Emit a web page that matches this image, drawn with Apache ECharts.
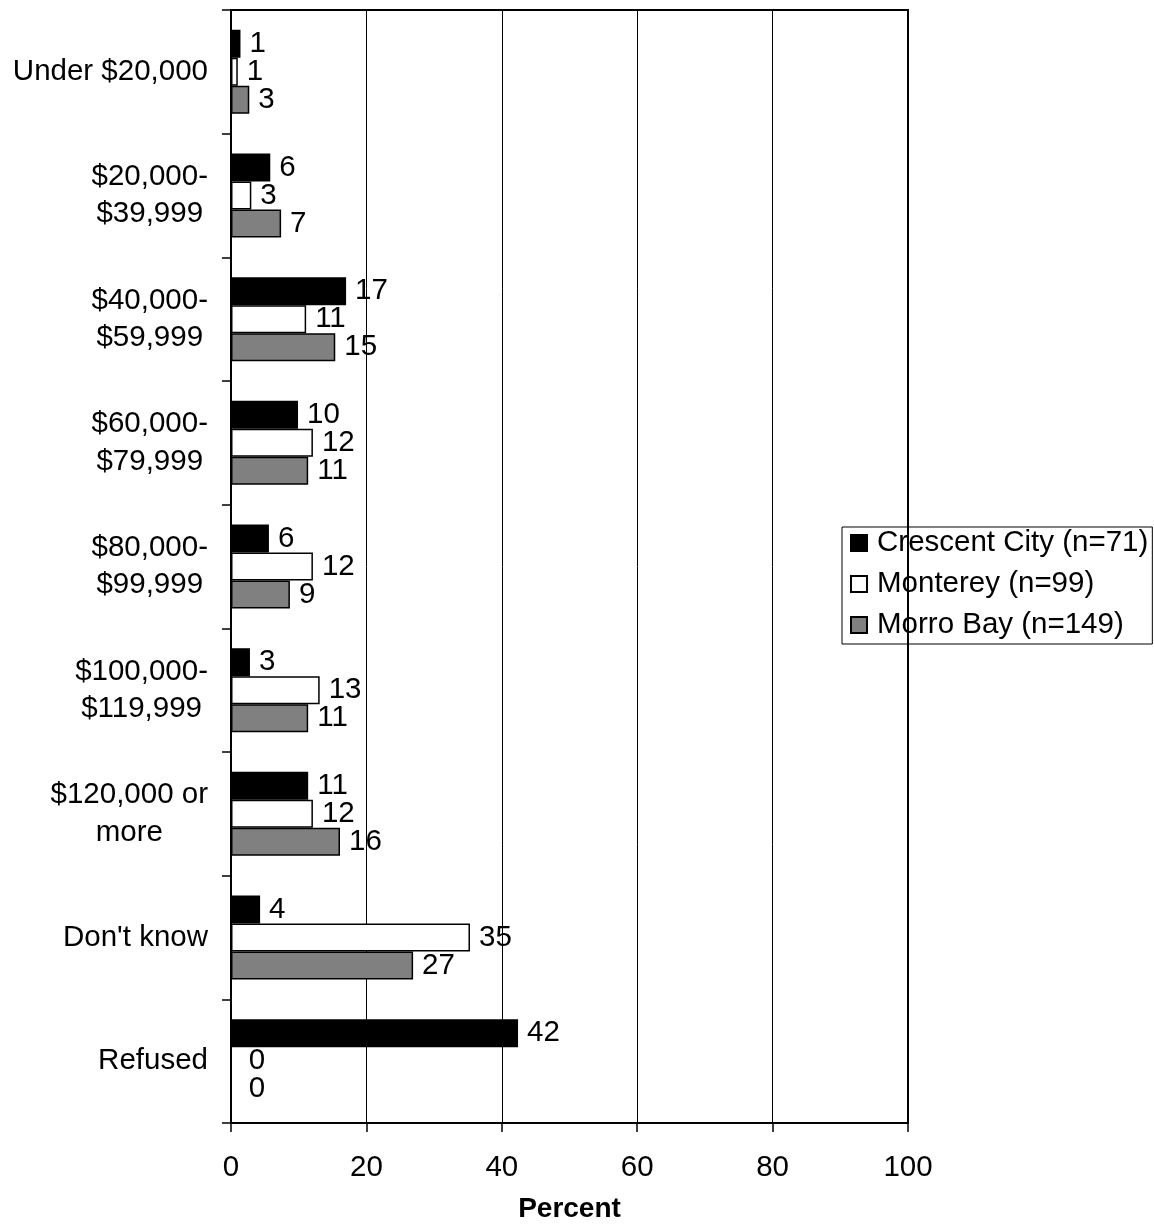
<!DOCTYPE html>
<html>
<head>
<meta charset="utf-8">
<script src="https://cdn.jsdelivr.net/npm/echarts@6/dist/echarts.min.js"></script>
<style>
html,body{margin:0;padding:0;background:#fff;}
#chart{width:1154px;height:1228px;}
</style>
</head>
<body>
<div id="chart"></div>
<script>
var categories = ["Under $20,000", "$20,000-\n$39,999", "$40,000-\n$59,999", "$60,000-\n$79,999", "$80,000-\n$99,999", "$100,000-\n$119,999", "$120,000 or\nmore", "Don't know", "Refused"];
var crescentCity = [1.4, 5.8, 17.0, 9.9, 5.6, 2.8, 11.4, 4.3, 42.4];
var monterey = [1.0, 3.0, 11.1, 12.1, 12.1, 13.1, 12.1, 35.3, 0];
var morroBay = [2.7, 7.4, 15.4, 11.4, 8.7, 11.4, 16.1, 26.9, 0];
var xTicks = [0, 20, 40, 60, 80, 100];
var seriesNames = ["Crescent City (n=71)", "Monterey (n=99)", "Morro Bay (n=149)"];

var FONT = "'Liberation Sans', Arial, sans-serif";
var FS = 29.5;
var chart = echarts.init(document.getElementById('chart'));

function barSeries(name, data, color) {
  return {
    name: name,
    type: 'bar',
    data: data,
    barWidth: 28,
    barGap: '0%',
    itemStyle: { color: color, borderColor: '#000', borderWidth: 1.5 },
    label: {
      show: true,
      position: 'right',
      distance: 9,
      color: '#000',
      fontSize: FS,
      fontFamily: FONT,
      formatter: function (p) {
        var r = Math.round(p.value);
        return r === 0 ? '{z|0}' : String(r);
      },
      rich: { z: { fontSize: FS, fontFamily: FONT, color: '#000', padding: [0, 0, 0, 8] } }
    }
  };
}

chart.setOption({
  backgroundColor: '#fff',
  animation: false,
  textStyle: { fontFamily: FONT },
  grid: { left: 231, right: 246, top: 10, bottom: 105, outerBoundsMode: 'none', containLabel: false, show: true, borderColor: '#000', borderWidth: 2, backgroundColor: 'transparent' },
  legend: {
    orient: 'vertical',
    left: 842,
    top: 527,
    data: seriesNames,
    borderColor: '#000',
    borderWidth: 1,
    padding: [1, 4, 4, 8],
    itemGap: 11,
    itemWidth: 16,
    itemHeight: 16,
    icon: 'rect',
    textStyle: { fontSize: FS, color: '#000', fontFamily: FONT, padding: [0, 0, 0, 5] }
  },
  xAxis: {
    type: 'value',
    min: 0,
    max: 100,
    interval: 20,
    name: 'Percent',
    nameLocation: 'middle',
    nameGap: 72,
    nameTextStyle: { fontSize: 28, fontWeight: 'bold', color: '#000', fontFamily: FONT },
    axisLine: { show: true, lineStyle: { color: '#000', width: 2 } },
    axisTick: { show: true, length: 9, lineStyle: { color: '#000', width: 1.5 } },
    axisLabel: {
      margin: 30, fontSize: FS, color: '#000', fontFamily: FONT,
      formatter: function (v) { return xTicks.indexOf(v) >= 0 ? String(v) : ''; }
    },
    splitLine: { show: true, lineStyle: { color: '#000', width: 1 } }
  },
  yAxis: {
    type: 'category',
    inverse: true,
    data: categories,
    axisLine: { show: true, lineStyle: { color: '#000', width: 2 } },
    axisTick: { show: true, length: 9, inside: false, lineStyle: { color: '#000', width: 1.5 } },
    axisLabel: {
      margin: 23,
      color: '#000',
      fontSize: FS,
      lineHeight: 37.5,
      fontFamily: FONT,
      formatter: function (v) {
        return v.split('\n').map(function (l) { return '{c|' + l + '}'; }).join('\n');
      },
      rich: { c: { align: 'center', fontSize: FS, lineHeight: 37.5, color: '#000', fontFamily: FONT } }
    },
    splitLine: { show: false }
  },
  series: [
    barSeries(seriesNames[0], crescentCity, '#000000'),
    barSeries(seriesNames[1], monterey, '#ffffff'),
    barSeries(seriesNames[2], morroBay, '#808080')
  ]
});
</script>
</body>
</html>
